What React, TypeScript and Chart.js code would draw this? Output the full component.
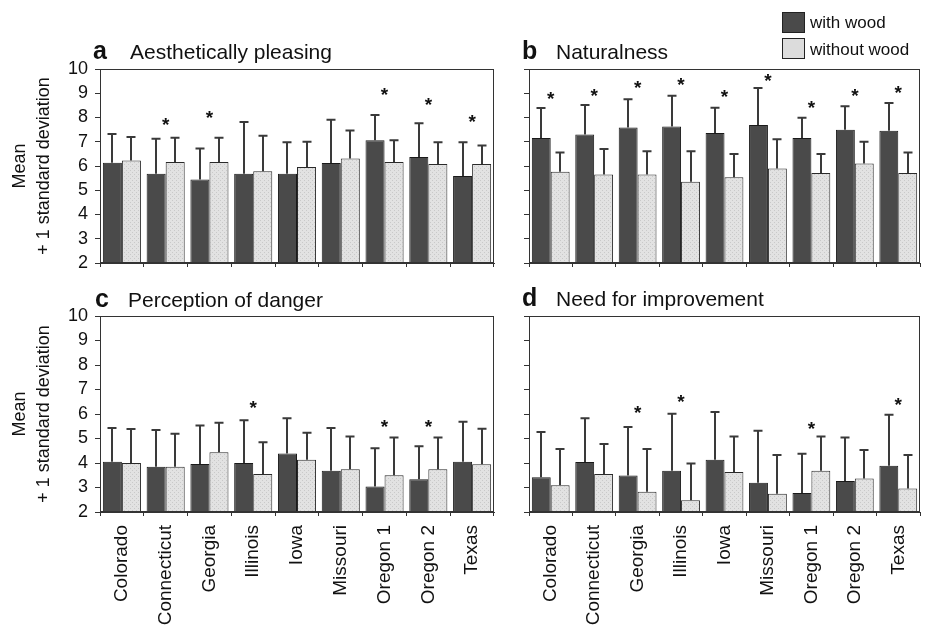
import React, { useEffect, useRef } from "react";
import { Chart, registerables } from "chart.js";

Chart.register(...registerables);

const FONT = '"Liberation Sans", Arial, Helvetica, sans-serif';
Chart.defaults.font.family = FONT;

// ---------- data ----------
const categories = ["Colorado", "Connecticut", "Georgia", "Illinois", "Iowa", "Missouri", "Oregon 1", "Oregon 2", "Texas"];
const seriesNames = ["with wood", "without wood"];
const yTitle = ["Mean", "+ 1 standard deviation"];

// a: Aesthetically pleasing
const aWith = [6.13, 5.68, 5.44, 5.68, 5.68, 6.12, 7.06, 6.37, 5.59];
const aWithout = [6.23, 6.17, 6.17, 5.78, 5.96, 6.31, 6.17, 6.08, 6.08];
const aWithTop = [7.32, 7.12, 6.72, 7.81, 6.98, 7.91, 8.1, 7.76, 6.98];
const aWithoutTop = [7.2, 7.16, 7.16, 7.25, 7.0, 7.46, 7.06, 6.98, 6.85];
const aStars = [null, 7.84, 8.15, null, null, null, 9.09, 8.66, 8.0];

// b: Naturalness
const bWith = [7.15, 7.3, 7.59, 7.63, 7.36, 7.69, 7.15, 7.5, 7.45];
const bWithout = [5.76, 5.65, 5.65, 5.35, 5.54, 5.9, 5.71, 6.1, 5.71];
const bWithTop = [8.39, 8.52, 8.75, 8.9, 8.4, 9.22, 7.99, 8.46, 8.6];
const bWithoutTop = [6.56, 6.7, 6.61, 6.61, 6.5, 7.1, 6.5, 7.0, 6.56];
const bStars = [8.93, 9.07, 9.38, 9.52, 9.02, 9.65, 8.56, 9.07, 9.16];

// c: Perception of danger
const cWith = [4.05, 3.85, 3.96, 4.0, 4.39, 3.68, 3.04, 3.34, 4.05];
const cWithout = [4.0, 3.85, 4.44, 3.55, 4.13, 3.74, 3.5, 3.74, 3.95];
const cWithTop = [5.43, 5.35, 5.53, 5.75, 5.83, 5.43, 4.6, 4.68, 5.68];
const cWithoutTop = [5.39, 5.19, 5.64, 4.85, 5.23, 5.08, 5.04, 5.04, 5.4];
const cStars = [null, null, null, 6.42, null, null, 5.64, 5.64, null];

// d: Need for improvement
const dWith = [3.42, 4.04, 3.49, 3.68, 4.13, 3.19, 2.78, 3.27, 3.89];
const dWithout = [3.09, 3.55, 2.83, 2.48, 3.63, 2.74, 3.68, 3.37, 2.96];
const dWithTop = [5.27, 5.83, 5.47, 6.01, 6.08, 5.32, 4.38, 5.04, 5.97];
const dWithoutTop = [4.57, 4.78, 4.57, 3.98, 5.08, 4.33, 5.08, 4.53, 4.33];
const dStars = [null, null, 6.2, 6.65, null, null, 5.54, null, 6.54];

const yMin = 2;
const yMax = 10;

// ---------- styles ----------
const DARK = "#4a4a4a";
const LIGHT = "#dcdcdc";

function makePattern(): CanvasPattern | string {
  const c = document.createElement("canvas");
  c.width = 4;
  c.height = 4;
  const g = c.getContext("2d");
  if (!g) return LIGHT;
  g.fillStyle = "#e2e2e2";
  g.fillRect(0, 0, 4, 4);
  g.fillStyle = "#c9c9c9";
  g.fillRect(0, 0, 1, 1);
  g.fillRect(2, 2, 1, 1);
  const p = g.createPattern(c, "repeat");
  return p || LIGHT;
}

type PanelProps = {
  left: number;
  top: number;
  width: number;
  height: number;
  padTop: number;
  padRight: number;
  yWidth: number;
  xHeight: number;
  showY: boolean;
  showX: boolean;
  withVals: number[];
  withoutVals: number[];
  withTop: number[];
  withoutTop: number[];
  stars: (number | null)[];
};

function Panel(p: PanelProps) {
  const ref = useRef<HTMLCanvasElement | null>(null);
  useEffect(() => {
    if (!ref.current) return;
    const tops = [p.withTop, p.withoutTop];
    const overlay = {
      id: "overlay",
      afterDatasetsDraw(chart: any) {
        const ctx = chart.ctx;
        const ys = chart.scales.y;
        const xs = chart.scales.x;
        const area = chart.chartArea;
        ctx.save();
        // error bars
        ctx.strokeStyle = "#3a3a3a";
        ctx.lineWidth = 2;
        for (let d = 0; d < 2; d++) {
          const meta = chart.getDatasetMeta(d);
          meta.data.forEach((el: any, i: number) => {
            const x = Math.round(el.x);
            const yTopPx = ys.getPixelForValue(tops[d][i]);
            ctx.beginPath();
            ctx.moveTo(x, el.y);
            ctx.lineTo(x, yTopPx);
            ctx.moveTo(x - 4.5, yTopPx);
            ctx.lineTo(x + 4.5, yTopPx);
            ctx.stroke();
          });
        }
        // significance stars
        ctx.fillStyle = "#111";
        ctx.font = "bold 19px " + FONT;
        ctx.textAlign = "center";
        ctx.textBaseline = "alphabetic";
        p.stars.forEach((s, i) => {
          if (s == null) return;
          const x = xs.getPixelForValue(i);
          const y = ys.getPixelForValue(s);
          ctx.fillText("*", x, y + 10);
        });
        // frame
        ctx.strokeStyle = "#333";
        ctx.lineWidth = 1;
        ctx.strokeRect(Math.round(area.left) + 0.5, Math.round(area.top) + 0.5, Math.round(area.right - area.left) - 1, Math.round(area.bottom - area.top) - 1);
        ctx.restore();
      },
    };
    const pattern = makePattern();
    const chart = new Chart(ref.current, {
      type: "bar",
      data: {
        labels: categories,
        datasets: [
          {
            label: seriesNames[0],
            data: p.withVals,
            backgroundColor: DARK,
            borderColor: "#1a1a1a",
            borderWidth: 1,
            borderSkipped: false,
            categoryPercentage: 0.87,
            barPercentage: 1,
          },
          {
            label: seriesNames[1],
            data: p.withoutVals,
            backgroundColor: pattern as any,
            borderColor: "#2a2a2a",
            borderWidth: 1,
            borderSkipped: false,
            categoryPercentage: 0.87,
            barPercentage: 1,
          },
        ],
      },
      options: {
        responsive: false,
        animation: false,
        devicePixelRatio: 1,
        layout: { padding: { top: p.padTop, right: p.padRight, bottom: 0, left: 0 } },
        plugins: { legend: { display: false }, tooltip: { enabled: false } },
        scales: {
          x: {
            grid: { offset: true, drawOnChartArea: false, tickLength: 4, color: "#333" },
            border: { color: "#333" },
            ticks: {
              display: p.showX,
              autoSkip: false,
              maxRotation: 90,
              minRotation: 90,
              padding: 9,
              color: "#111",
              font: { size: 19, family: FONT },
            },
            afterFit: (s: any) => {
              s.height = p.xHeight;
              s.paddingLeft = 0;
              s.paddingRight = 0;
            },
          },
          y: {
            min: yMin,
            max: yMax,
            grid: { drawOnChartArea: false, tickLength: 5, color: "#333" },
            border: { color: "#333" },
            ticks: {
              stepSize: 1,
              autoSkip: false,
              padding: 7,
              color: "#111",
              font: { size: 18, family: FONT },
              callback: (v: any) => (p.showY ? String(v) : ""),
            },
            title: {
              display: p.showY,
              text: yTitle,
              color: "#111",
              font: { size: 18, family: FONT, lineHeight: 1.333 },
              padding: { top: 8, bottom: 0 },
            },
            afterFit: (s: any) => {
              s.width = p.yWidth;
              s.paddingTop = 0;
              s.paddingBottom = 0;
            },
          },
        },
      } as any,
      plugins: [overlay],
    });
    return () => chart.destroy();
  }, []);
  return (
    <canvas
      ref={ref}
      width={p.width}
      height={p.height}
      style={{ position: "absolute", left: p.left, top: p.top, width: p.width, height: p.height }}
    />
  );
}

const textBase: React.CSSProperties = {
  position: "absolute",
  fontFamily: FONT,
  color: "#111",
  whiteSpace: "nowrap",
  lineHeight: "24px",
};

function Title(props: { letter: string; text: string; x: number; tx: number; cy: number }) {
  return (
    <>
      <div style={{ ...textBase, left: props.x, top: props.cy - 14, fontSize: 25, fontWeight: "bold", lineHeight: "24px" }}>{props.letter}</div>
      <div style={{ ...textBase, left: props.tx, top: props.cy - 12, fontSize: 21 }}>{props.text}</div>
    </>
  );
}

export default function App() {
  return (
    <div style={{ position: "fixed", left: 0, top: 0, width: 925, height: 630, background: "#fff", overflow: "hidden" }}>
      <Panel left={0} top={40} width={500} height={240} padTop={29} padRight={6} yWidth={100} xHeight={17}
        showY={true} showX={false} withVals={aWith} withoutVals={aWithout} withTop={aWithTop} withoutTop={aWithoutTop} stars={aStars} />
      <Panel left={500} top={40} width={425} height={240} padTop={29} padRight={5} yWidth={29} xHeight={17}
        showY={false} showX={false} withVals={bWith} withoutVals={bWithout} withTop={bWithTop} withoutTop={bWithoutTop} stars={bStars} />
      <Panel left={0} top={290} width={500} height={340} padTop={26} padRight={6} yWidth={100} xHeight={118}
        showY={true} showX={true} withVals={cWith} withoutVals={cWithout} withTop={cWithTop} withoutTop={cWithoutTop} stars={cStars} />
      <Panel left={500} top={290} width={425} height={340} padTop={26} padRight={5} yWidth={29} xHeight={118}
        showY={false} showX={true} withVals={dWith} withoutVals={dWithout} withTop={dWithTop} withoutTop={dWithoutTop} stars={dStars} />

      <Title letter="a" text="Aesthetically pleasing" x={93} tx={130} cy={52} />
      <Title letter="b" text="Naturalness" x={522} tx={556} cy={52} />
      <Title letter="c" text="Perception of danger" x={95} tx={128} cy={300} />
      <Title letter="d" text="Need for improvement" x={522} tx={556} cy={299} />

      <div style={{ position: "absolute", left: 782, top: 12, width: 21, height: 19, background: DARK, border: "1px solid #222" }} />
      <div style={{ position: "absolute", left: 782, top: 38, width: 21, height: 19, background: LIGHT, border: "1px solid #222" }} />
      <div style={{ ...textBase, left: 810, top: 11, fontSize: 17 }}>{seriesNames[0]}</div>
      <div style={{ ...textBase, left: 810, top: 38, fontSize: 17 }}>{seriesNames[1]}</div>
    </div>
  );
}
